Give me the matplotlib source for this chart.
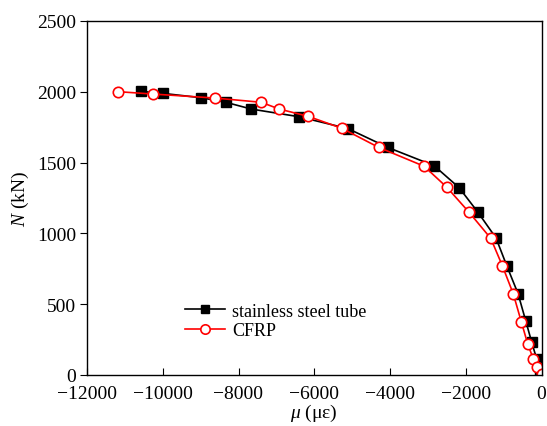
import matplotlib
matplotlib.use("Agg")
import matplotlib.pyplot as plt

plt.rcParams['font.family'] = ['Liberation Serif', 'DejaVu Serif']
plt.rcParams['mathtext.fontset'] = 'custom'
plt.rcParams['mathtext.it'] = 'Liberation Serif:italic'
plt.rcParams['mathtext.rm'] = 'Liberation Serif'

steel_x = [-10568, -10000, -8979, -8337, -7660, -6403, -5110, -4066, -2835, -2176,
           -1683, -1200, -918, -620, -417, -258, -127, -40]
steel_y = [2003, 1989, 1958, 1926, 1878, 1824, 1740, 1608, 1478, 1323,
           1151, 967, 772, 575, 383, 231, 113, 21]

cfrp_x = [-11185, -10252, -8627, -7404, -6921, -6165, -5269, -4303, -3098, -2500,
          -1912, -1340, -1034, -744, -533, -364, -216, -127, 0]
cfrp_y = [2001, 1984, 1956, 1926, 1878, 1827, 1742, 1608, 1474, 1326,
          1149, 965, 772, 572, 376, 219, 113, 54, 5]

xticks = [-12000, -10000, -8000, -6000, -4000, -2000, 0]
yticks = [0, 500, 1000, 1500, 2000, 2500]

fig = plt.figure(figsize=(5.47, 4.27), dpi=100)
ax = fig.add_axes([87/547, 1-376/427, (541.5-87)/547, (376-22)/427])

ax.plot(steel_x, steel_y, color='black', lw=1.2, marker='s', ms=7,
        mfc='black', mec='black', label='stainless steel tube')
ax.plot(cfrp_x, cfrp_y, color='red', lw=1.2, marker='o', ms=7.5,
        mfc='white', mec='red', mew=1.2, label='CFRP')

ax.set_xlim(-12000, 0)
ax.set_ylim(0, 2500)
ax.set_xticks(xticks)
ax.set_yticks(yticks)
ax.set_xticklabels(['\u2212' + str(-v) if v < 0 else str(v) for v in xticks])
ax.tick_params(axis='x', direction='in', length=5, labelsize=14, pad=7)
ax.tick_params(axis='y', direction='out', length=5, labelsize=14, pad=3)
for s in ax.spines.values():
    s.set_linewidth(1.0)

ax.set_xlabel(r'$\mu$ (με)', fontsize=14, labelpad=0)
ax.set_ylabel(r'$N$ (kN)', fontsize=14, labelpad=4)

ax.legend(loc='lower left', bbox_to_anchor=(0.18, 0.055), frameon=False,
          fontsize=13, handlelength=2.2, labelspacing=0.15, handletextpad=0.4,
          markerscale=0.9)

fig.savefig('out.png', dpi=100)
